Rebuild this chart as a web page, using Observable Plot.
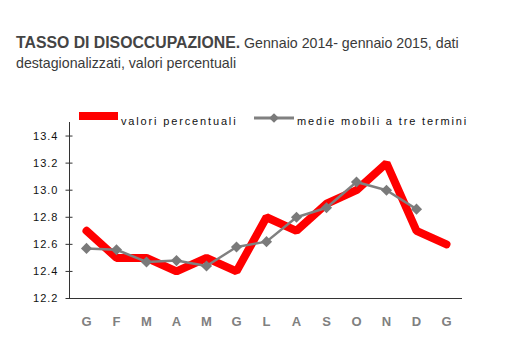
<!DOCTYPE html>
<html>
<head>
<meta charset="utf-8">
<script src="https://cdn.jsdelivr.net/npm/d3@7"></script>
<script src="https://cdn.jsdelivr.net/npm/@observablehq/plot@0.6"></script>
<style>
  body { margin: 0; background: #fff; }
  #wrap { position: relative; width: 508px; height: 362px; overflow: hidden; background: #fff; }
  #title { position: absolute; left: 16px; top: 33px; font-family: "Liberation Sans", Arial, sans-serif; font-size: 14.2px; line-height: 20px; color: #3a3a3a; white-space: nowrap; }
  #title b { color: #444; font-size: 15.8px; }
  #legend { position: absolute; left: 0; top: 100px; }
  #chart { position: absolute; left: 0; top: 100px; }
</style>
</head>
<body>
<div id="wrap">
  <div id="title"><b>TASSO DI DISOCCUPAZIONE.</b> Gennaio 2014- gennaio 2015, dati<br>destagionalizzati, valori percentuali</div>
  <div id="chart"></div>
  <svg id="legend" width="508" height="30"></svg>
</div>
<script>
// Month labels (Jan 2014 .. Jan 2015)
const months = ["G", "F", "M", "A", "M", "G", "L", "A", "S", "O", "N", "D", "G"];
// Unemployment rate, percent
const valori = [12.7, 12.5, 12.5, 12.4, 12.5, 12.4, 12.8, 12.7, 12.9, 13.0, 13.2, 12.7, 12.6];
// Three-term moving average (last month not available)
const medie = [12.57, 12.56, 12.47, 12.48, 12.44, 12.58, 12.62, 12.80, 12.87, 13.06, 13.00, 12.86];
const yTicks = [12.2, 12.4, 12.6, 12.8, 13.0, 13.2, 13.4];
const seriesNames = ["valori percentuali", "medie mobili a tre termini"];

const rowsV = valori.map((v, i) => ({i, v}));
const rowsM = medie.map((v, i) => ({i, v}));

const chart = Plot.plot({
  width: 508,
  height: 238,
  marginTop: 22,
  marginBottom: 40,
  marginLeft: 69,
  marginRight: 46,
  style: {fontFamily: "'Liberation Sans', Arial, sans-serif", background: "transparent"},
  x: {type: "point", domain: months.map((_, i) => i), padding: 0.5, label: null},
  y: {domain: [12.2, 13.5], label: null},
  marks: [
    Plot.frame({anchor: "left", stroke: "#333"}),
    Plot.ruleY([12.2], {stroke: "#333", strokeWidth: 1.2}),
    Plot.axisY(yTicks, {tickSize: 7, dx: 3.5, tickPadding: 7.5, tickFormat: d => d.toFixed(1), fontSize: 11, fill: "#111", stroke: "#333", label: null}),
    Plot.axisX({tickSize: 0, tickPadding: 18, tickFormat: i => months[i], fontSize: 13, fontWeight: "bold", fill: "#808080", fontFamily: "'Liberation Sans Narrow', 'Liberation Sans', sans-serif", label: null}),
    Plot.line(rowsV, {x: "i", y: "v", stroke: "#ff0000", strokeWidth: 8, strokeLinejoin: "miter"}),
    Plot.line(rowsM, {x: "i", y: "v", stroke: "#808080", strokeWidth: 2.5}),
    Plot.dot(rowsM, {x: "i", y: "v", symbol: "diamond2", r: 5, fill: "#7a7a7a", stroke: "none"})
  ]
});
document.getElementById("chart").appendChild(chart);
d3.select(chart).selectAll("g[aria-label='y-axis tick label'] text").attr("letter-spacing", 1);

// Legend
const lg = d3.select("#legend");
lg.append("rect").attr("x", 79).attr("y", 12).attr("width", 39).attr("height", 8).attr("fill", "#ff0000");
lg.append("text").attr("x", 121).attr("y", 25).text(seriesNames[0])
  .attr("font-family", "'Liberation Sans', Arial, sans-serif").attr("font-size", 11).attr("letter-spacing", 1.85).attr("fill", "#111");
lg.append("line").attr("x1", 254).attr("x2", 294).attr("y1", 18).attr("y2", 18).attr("stroke", "#808080").attr("stroke-width", 3);
lg.append("path").attr("d", d3.symbol(d3.symbolDiamond2, 60)()).attr("transform", "translate(274,18)").attr("fill", "#7a7a7a");
lg.append("text").attr("x", 297).attr("y", 25).text(seriesNames[1])
  .attr("font-family", "'Liberation Sans', Arial, sans-serif").attr("font-size", 11).attr("letter-spacing", 1.85).attr("fill", "#111");
</script>
</body>
</html>
